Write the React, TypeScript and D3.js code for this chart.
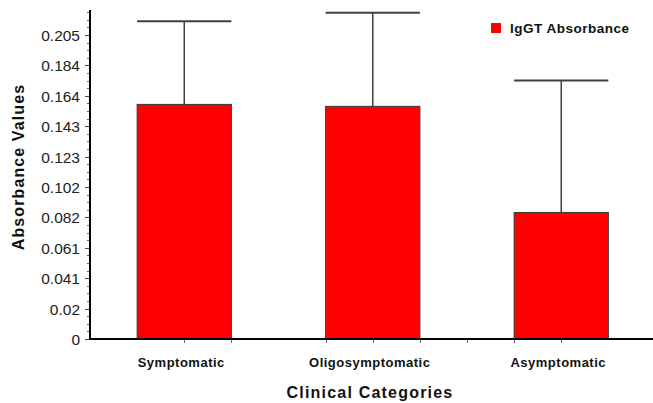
import { useRef, useEffect } from "react";
import * as d3 from "d3";

const categories = ["Symptomatic", "Oligosymptomatic", "Asymptomatic"];
const absorbance = [0.1578, 0.1565, 0.0851];
const errorTop = [0.2138, 0.2194, 0.1739];
const yTickLabels = ["0", "0.02", "0.041", "0.061", "0.082", "0.102", "0.123", "0.143", "0.164", "0.184", "0.205"];
const yTickStep = 0.02045;
const yMax = 0.2213;
// x ticks in category units (0 = centre of first category)
const xTickPositions = [0, 0.25, 0.75, 1, 1.25, 1.5, 1.75, 2];

export default function App() {
  const svgRef = useRef<SVGSVGElement>(null);
  const width = 653;
  const height = 403;

  useEffect(() => {
    const svg = d3.select(svgRef.current);
    svg.selectAll("*").remove();

    const left = 90;
    const zeroY = 339;
    const topY = 10;

    const x = d3.scaleLinear().domain([-0.5, 2.5]).range([left, 655.5]);
    const y = d3.scaleLinear().domain([0, yMax]).range([zeroY, topY]);
    const barW = (x(1) - x(0)) / 2;

    const g = svg.append("g");

    // bars
    g.selectAll(".bar")
      .data(absorbance)
      .enter()
      .append("rect")
      .attr("x", (d, i) => x(i) - barW / 2)
      .attr("y", (d) => y(d))
      .attr("width", barW)
      .attr("height", (d) => zeroY - y(d))
      .attr("fill", "#ff0000")
      .attr("stroke", "#3a3a3a")
      .attr("stroke-width", 1);

    // error bars
    errorTop.forEach((e, i) => {
      g.append("line")
        .attr("x1", x(i))
        .attr("x2", x(i))
        .attr("y1", y(absorbance[i]))
        .attr("y2", y(e))
        .attr("stroke", "#404040")
        .attr("stroke-width", 1.5);
      g.append("line")
        .attr("x1", x(i) - barW / 2)
        .attr("x2", x(i) + barW / 2)
        .attr("y1", y(e))
        .attr("y2", y(e))
        .attr("stroke", "#404040")
        .attr("stroke-width", 2);
    });

    // y minor ticks
    const minor = d3.range(0, yMax, yTickStep / 4);
    g.selectAll(".minor")
      .data(minor)
      .enter()
      .append("line")
      .attr("x1", left - 3)
      .attr("x2", left)
      .attr("y1", (d) => Math.round(y(d)) + 0.5)
      .attr("y2", (d) => Math.round(y(d)) + 0.5)
      .attr("stroke", "#666")
      .attr("stroke-width", 1);

    // y major ticks + labels
    yTickLabels.forEach((lab, i) => {
      const yy = Math.round(y(i * yTickStep)) + 0.5;
      g.append("line")
        .attr("x1", left - 5)
        .attr("x2", left)
        .attr("y1", yy)
        .attr("y2", yy)
        .attr("stroke", "#444")
        .attr("stroke-width", 1);
      g.append("text")
        .attr("x", 80)
        .attr("y", yy)
        .attr("dy", "0.36em")
        .attr("text-anchor", "end")
        .attr("font-family", "Liberation Sans, Arial, sans-serif")
        .attr("font-size", "15.5px")
        .attr("fill", "#222")
        .text(lab);
    });

    // x ticks
    g.selectAll(".xtick")
      .data(xTickPositions)
      .enter()
      .append("line")
      .attr("x1", (d) => Math.round(x(d)) + 0.5)
      .attr("x2", (d) => Math.round(x(d)) + 0.5)
      .attr("y1", zeroY)
      .attr("y2", zeroY + 4)
      .attr("stroke", "#666")
      .attr("stroke-width", 1);

    // axes lines
    g.append("line")
      .attr("x1", left)
      .attr("x2", left)
      .attr("y1", topY)
      .attr("y2", zeroY + 1)
      .attr("stroke", "#000")
      .attr("stroke-width", 2);
    g.append("line")
      .attr("x1", left - 1)
      .attr("x2", width)
      .attr("y1", zeroY)
      .attr("y2", zeroY)
      .attr("stroke", "#000")
      .attr("stroke-width", 2);

    // category labels
    g.selectAll(".cat")
      .data(categories)
      .enter()
      .append("text")
      .attr("x", (d, i) => x(i) - 3)
      .attr("y", 367)
      .attr("text-anchor", "middle")
      .attr("font-family", "Liberation Sans, Arial, sans-serif")
      .attr("font-weight", "bold")
      .attr("font-size", "13px")
      .attr("letter-spacing", "0.5px")
      .attr("fill", "#111")
      .text((d) => d);

    // axis titles
    svg.append("text")
      .attr("x", 370)
      .attr("y", 397.5)
      .attr("text-anchor", "middle")
      .attr("font-family", "Liberation Sans, Arial, sans-serif")
      .attr("font-weight", "bold")
      .attr("font-size", "16px")
      .attr("letter-spacing", "1.2px")
      .attr("fill", "#111")
      .text("Clinical Categories");

    svg.append("text")
      .attr("transform", "translate(24,167) rotate(-90)")
      .attr("text-anchor", "middle")
      .attr("font-family", "Liberation Sans, Arial, sans-serif")
      .attr("font-weight", "bold")
      .attr("font-size", "16px")
      .attr("letter-spacing", "1.1px")
      .attr("fill", "#111")
      .text("Absorbance Values");

    // legend
    const legend = svg.append("g").attr("transform", "translate(491,23)");
    legend.append("rect").attr("width", 10).attr("height", 10).attr("fill", "#ff0000");
    legend
      .append("text")
      .attr("x", 19)
      .attr("y", 10)
      .attr("font-family", "Liberation Sans, Arial, sans-serif")
      .attr("font-weight", "bold")
      .attr("font-size", "13.5px")
      .attr("letter-spacing", "0.5px")
      .attr("fill", "#111")
      .text("IgGT Absorbance");
  }, []);

  return (
    <svg
      ref={svgRef}
      width={width}
      height={height}
      style={{ position: "absolute", left: 0, top: 0, background: "#fff" }}
    ></svg>
  );
}
